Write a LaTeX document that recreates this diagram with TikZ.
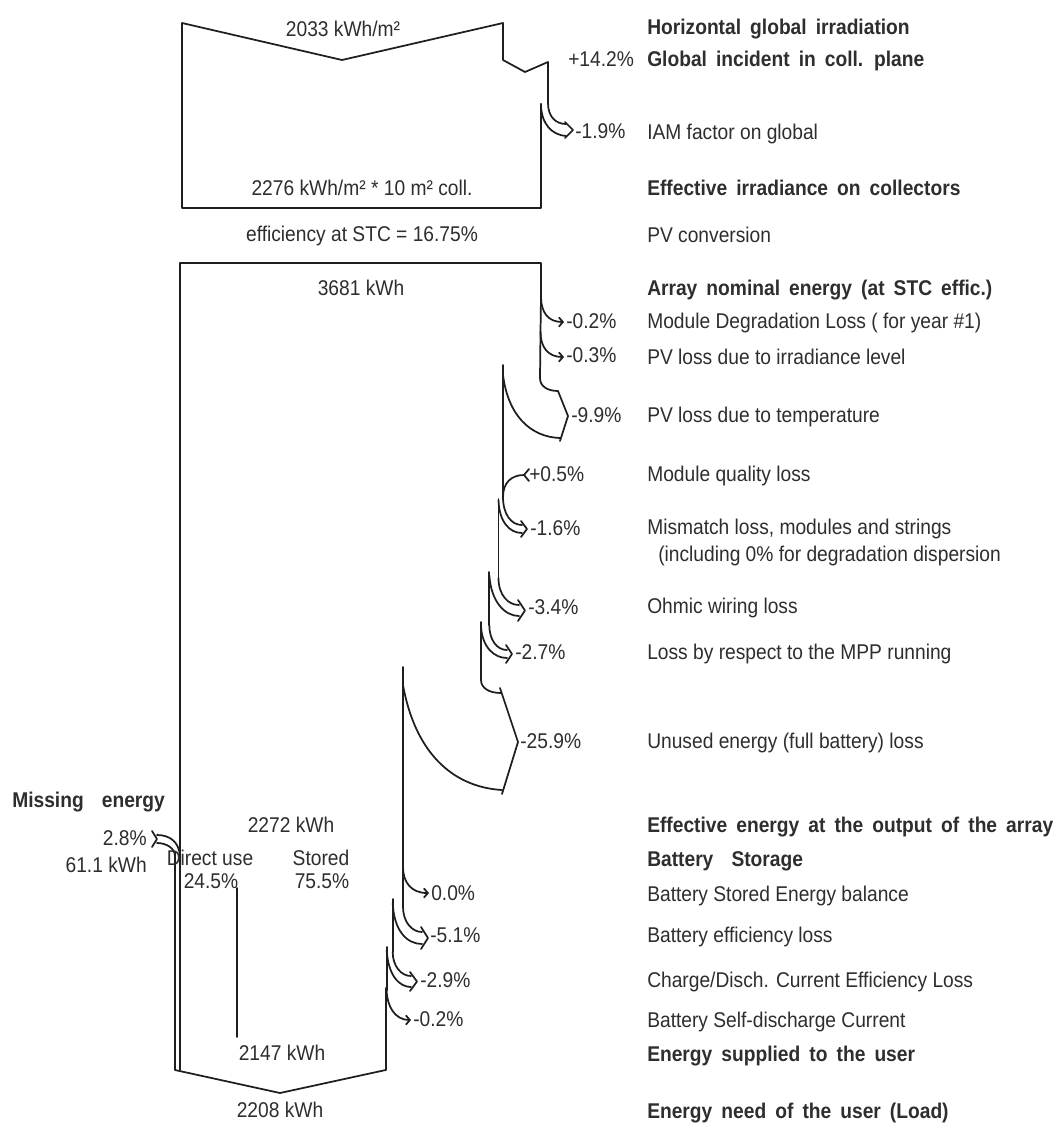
\documentclass[tikz,border=0pt]{standalone}
\usepackage{fontspec}
\setmainfont[FakeStretch=0.9]{Liberation Sans}
\newfontfamily\headfont[FakeStretch=0.9,WordSpace=1.7]{Liberation Sans}
\usetikzlibrary{arrows.meta}
\definecolor{tc}{HTML}{2E2E2E}
\definecolor{lc}{HTML}{1E1E1E}
\begin{document}
\begin{tikzpicture}[x=0.75pt,y=-0.75pt,
  font=\fontsize{16pt}{18pt}\selectfont,
  txt/.style={inner sep=0pt, text height=11.5pt, text depth=3.3pt, text=tc},
  lt/.style={txt, anchor=west},
  hd/.style={txt, anchor=west, font=\fontsize{16pt}{18pt}\selectfont\headfont\bfseries},
  ct/.style={txt, anchor=center},
  rt/.style={txt, anchor=east},
  ln/.style={line width=1.3pt, draw=lc, line cap=round, line join=round},
  sa/.style={ln, -{Straight Barb[length=3pt,width=7pt]}}]
\fill[white] (0,0) rectangle (1058,1128);
\useasboundingbox (0,0) rectangle (1058,1128);

% ---------- top box (irradiation) ----------
\draw[ln] (548,103) -- (548,62) -- (525,72) -- (503,60) -- (503,23) -- (342,60) -- (182,23)
          -- (182,208) -- (541,208) -- (541,104);
% IAM loss arrow
\draw[ln] (548,103) .. controls (548,117) and (556,124) .. (566,124);
\draw[ln] (541,104) .. controls (541,124) and (552,135) .. (566,136);
\draw[ln] (565,122) -- (573,130) -- (565,138);

% ---------- energy band ----------
\draw[ln] (180,1070) -- (180,263) -- (541,263) -- (541,297);
\draw[sa] (541,297) .. controls (541,312) and (548,322) .. (564,322);
\draw[ln] (541,297) -- (540.5,332);
\draw[sa] (540.5,332) .. controls (540.5,347) and (548,357) .. (564,357);
\draw[ln] (540.5,332) -- (540,378);
% -9.9%
\draw[ln] (540,378) .. controls (540,386) and (547,391) .. (558,391);
\draw[ln] (558,391) -- (568,416) -- (560,441);
\draw[ln] (503,375) .. controls (508,415) and (530,437) .. (560,438);
\draw[ln] (503,365) -- (503,497);
% +0.5%
\draw[ln] (503,497) .. controls (503,483) and (511,475) .. (524,475);
\draw[ln] (529,469) -- (524,475) -- (529,481);
% -1.6%
\draw[ln] (503,497) .. controls (503,514) and (511,525) .. (522,525);
\draw[ln] (498.5,500) .. controls (499,521) and (509,533) .. (522,533);
\draw[ln] (521,521) -- (527,529) -- (521,537);
\draw[ln] (498.5,499) -- (498.5,578);
% -3.4%
\draw[ln] (498.5,578) .. controls (498.5,595) and (508,605) .. (519,605);
\draw[ln] (489.3,575) .. controls (491,602) and (505,616) .. (519,616);
\draw[ln] (518,600) -- (525,610.5) -- (518,621);
\draw[ln] (489.3,572) -- (489.3,625);
% -2.7%
\draw[ln] (489.3,625) .. controls (489.3,640) and (497,650) .. (507,650);
\draw[ln] (481,626) .. controls (482,647) and (494,658) .. (507,658);
\draw[ln] (506,645) -- (512,654) -- (506,663);
\draw[ln] (481,622) -- (481,680);
% -25.9%
\draw[ln] (481,680) .. controls (481,688) and (489,693) .. (501,693);
\draw[ln] (500,688) -- (518,742) -- (502,794);
\draw[ln] (403,685) .. controls (415,752) and (452,787) .. (502,790);
\draw[ln] (403,667) -- (403,907);
% 0.0%
\draw[sa] (403,867) .. controls (403,882) and (411,893) .. (429,893);
% -5.1%
\draw[ln] (403,907) .. controls (403,922) and (412,932) .. (422,932);
\draw[ln] (392.7,903) .. controls (394,931) and (407,944) .. (422,944);
\draw[ln] (421,927) -- (428,938) -- (421,949);
\draw[ln] (392.7,899) -- (392.7,952);
% -2.9%
\draw[ln] (392.7,952) .. controls (392.7,966) and (401,976) .. (411,976);
\draw[ln] (386.7,950) .. controls (388,975) and (399,987) .. (411,987);
\draw[ln] (410,972) -- (417,981.5) -- (410,991);
\draw[ln] (386.7,947) -- (386.7,990);
% -0.2%
\draw[sa] (386.7,990) .. controls (386.7,1006) and (395,1020) .. (411,1020);
\draw[ln] (385.7,988) -- (385.7,1070);
% bottom (load)
\draw[ln] (175,852) -- (175,1070) -- (280,1093) -- (385.7,1070);
% missing energy
\draw[ln] (157,835) .. controls (170,835) and (179,842) .. (180,856);
\draw[ln] (157,843) .. controls (166,843) and (175,848) .. (175,856);
\draw[ln] (152,831) -- (157,839) -- (152,847);
% direct use split
\draw[ln] (236.7,888) -- (236.7,1037);

% ---------- texts in the diagram ----------
\node[ct] (ghor) at (343,31) {2033 kWh/m²};
\node[ct] (geff) at (362,190) {2276 kWh/m² * 10 m² coll.};
\node[ct] (effstc) at (362,236) {efficiency at STC = 16.75\%};
\node[ct] (enom) at (361,290) {3681 kWh};
\node[ct] (earr) at (291,827) {2272 kWh};
\node[ct] (dir) at (210,860) {Direct use};
\node[ct] (dirp) at (211,883) {24.5\%};
\node[ct] (sto) at (321,860) {Stored};
\node[ct] (stop) at (322,883) {75.5\%};
\node[ct] (esup) at (282,1055) {2147 kWh};
\node[ct] (eload) at (280,1112) {2208 kWh};
\node[hd] (miss) at (12,802) {Missing~~energy};
\node[rt] (missp) at (147,840) {2.8\%};
\node[rt] (misse) at (147,867) {61.1 kWh};

% percentages
\node[lt] (p1) at (568,61) {+14.2\%};
\node[lt] (p2) at (575,133) {-1.9\%};
\node[lt] (p3) at (566,323) {-0.2\%};
\node[lt] (p4) at (566,357) {-0.3\%};
\node[lt] (p5) at (571,417) {-9.9\%};
\node[lt] (p6) at (529,476) {+0.5\%};
\node[lt] (p7) at (530,530) {-1.6\%};
\node[lt] (p8) at (528,609) {-3.4\%};
\node[lt] (p9) at (515,654) {-2.7\%};
\node[lt] (p10) at (520,743) {-25.9\%};
\node[lt] (p11) at (431,895) {0.0\%};
\node[lt] (p12) at (430,937) {-5.1\%};
\node[lt] (p13) at (420,982) {-2.9\%};
\node[lt] (p14) at (413,1021) {-0.2\%};

% ---------- right column ----------
\node[hd] (t1) at (647,29) {Horizontal global irradiation};
\node[hd] (t2) at (647,61) {Global incident in coll. plane};
\node[lt] (t3) at (647,134) {IAM factor on global};
\node[hd] (t4) at (647,190) {Effective irradiance on collectors};
\node[lt] (t5) at (647,237) {PV conversion};
\node[hd] (t6) at (647,290) {Array nominal energy (at STC effic.)};
\node[lt] (t7) at (647,323) {Module Degradation Loss ( for year \#1)};
\node[lt] (t8) at (647,359) {PV loss due to irradiance level};
\node[lt] (t9) at (647,417) {PV loss due to temperature};
\node[lt] (t10) at (647,476) {Module quality loss};
\node[lt] (t11) at (647,529) {Mismatch loss, modules and strings};
\node[lt] (t12) at (658,556) {(including 0\% for degradation dispersion};
\node[lt] (t13) at (647,608) {Ohmic wiring loss};
\node[lt] (t14) at (647,654) {Loss by respect to the MPP running};
\node[lt] (t15) at (647,743) {Unused energy (full battery) loss};
\node[hd] (t16) at (647,827) {Effective energy at the output of the array};
\node[hd] (t17) at (647,861) {Battery~~Storage};
\node[lt] (t18) at (647,896) {Battery Stored Energy balance};
\node[lt] (t19) at (647,937) {Battery efficiency loss};
\node[lt] (t20) at (647,982) {Charge/Disch. Current Efficiency Loss};
\node[lt] (t21) at (647,1022) {Battery Self-discharge Current};
\node[hd] (t22) at (647,1056) {Energy supplied to the user};
\node[hd] (t23) at (647,1113) {Energy need of the user (Load)};
\end{tikzpicture}
\end{document}
